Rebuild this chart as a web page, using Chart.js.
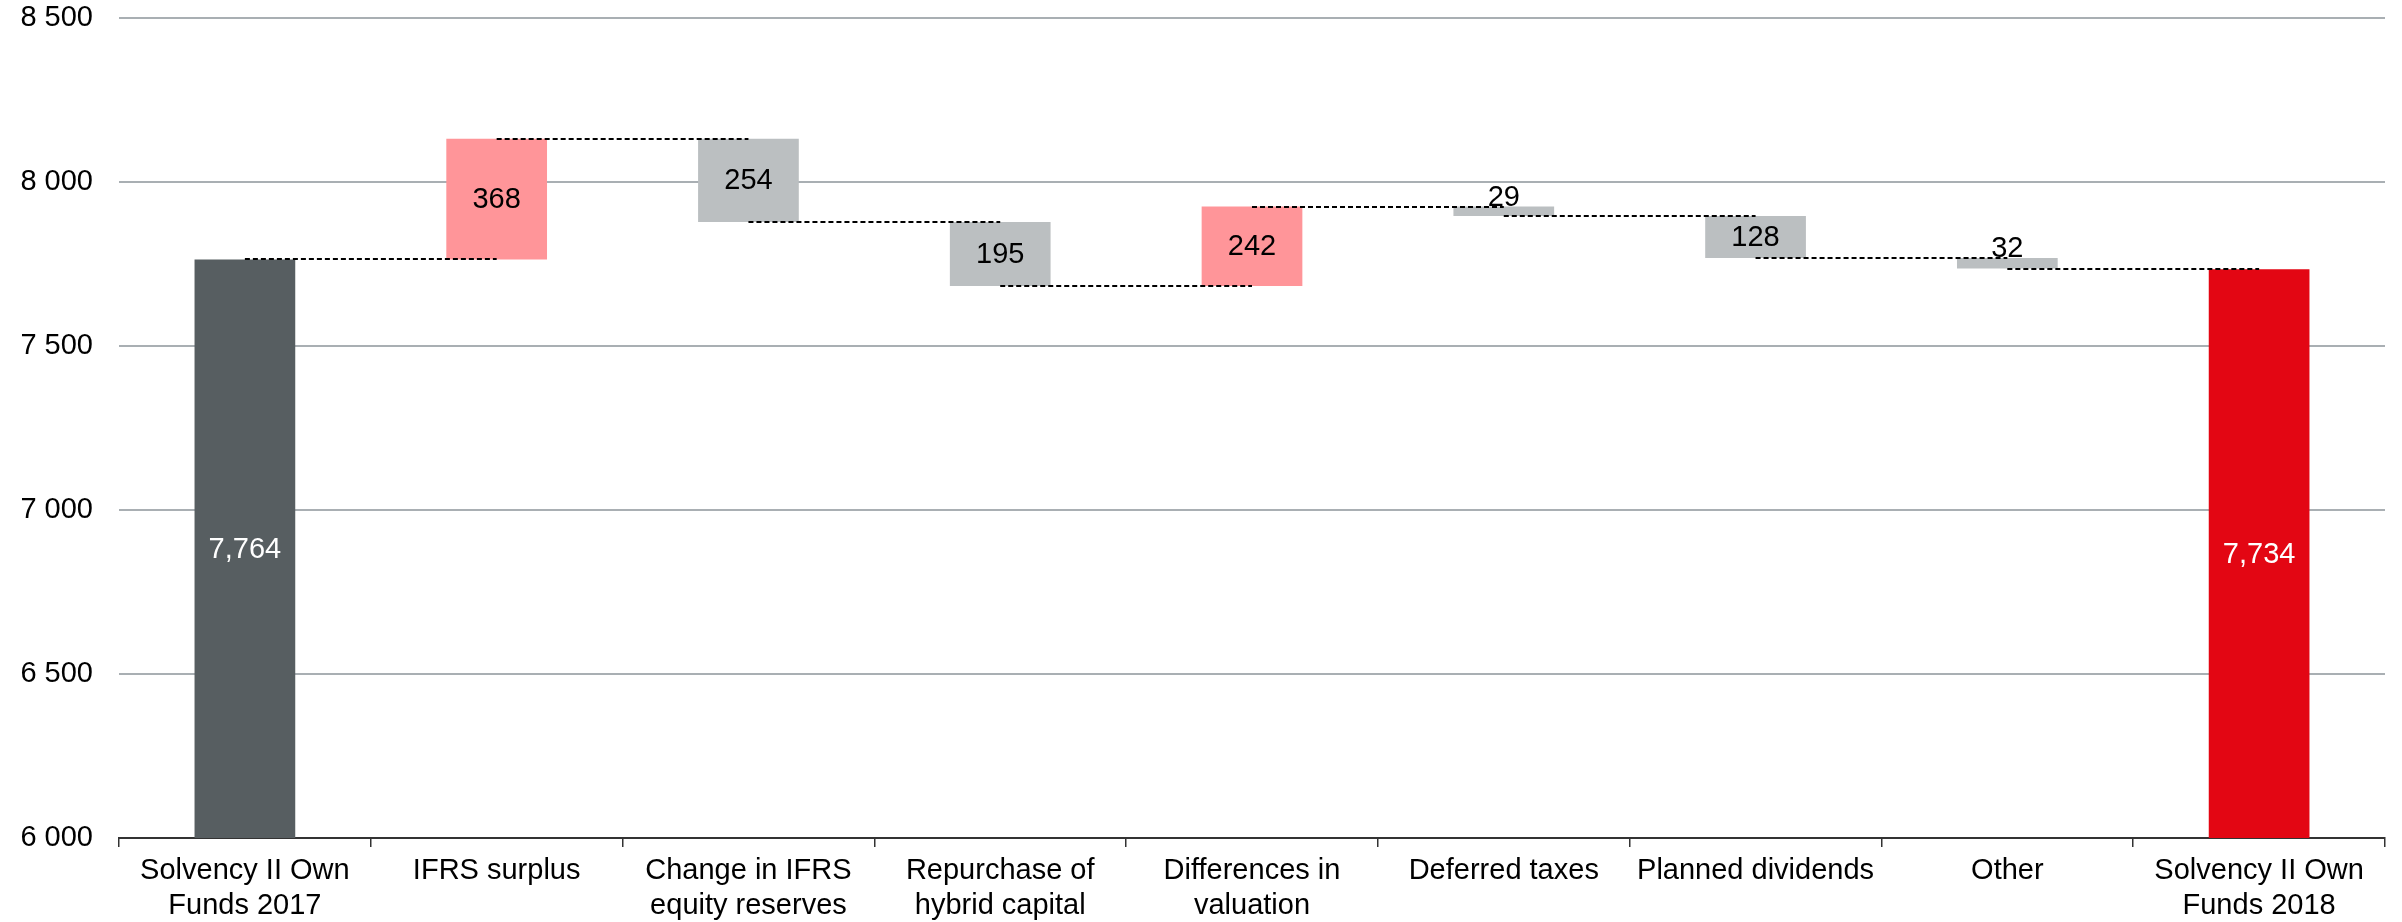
<!DOCTYPE html>
<html>
<head>
<meta charset="utf-8">
<script src="https://cdn.jsdelivr.net/npm/chart.js@4"></script>
<style>
  html, body { margin: 0; padding: 0; background: #fff; }
  #wrap { width: 2402px; height: 922px; }
</style>
</head>
<body>
<div id="wrap"><canvas id="chart" width="2402" height="922"></canvas></div>
<script>
const categories = [
  ['Solvency II Own', 'Funds 2017'],
  'IFRS surplus',
  ['Change in IFRS', 'equity reserves'],
  ['Repurchase of', 'hybrid capital'],
  ['Differences in', 'valuation'],
  'Deferred taxes',
  'Planned dividends',
  'Other',
  ['Solvency II Own', 'Funds 2018']
];
const openingTotal = 7764;
const closingTotal = 7734;
const changes = [368, -254, -195, 242, -29, -128, -32];
const yTicks = [6000, 6500, 7000, 7500, 8000, 8500];

const colTotalStart = '#575E61';
const colTotalEnd = '#E30613';
const colUp = '#FF9599';
const colDown = '#BBBFC1';
const fontFamily = '"Liberation Sans", Arial, sans-serif';

// build floating bars for the waterfall
const ranges = [[0, openingTotal]];
const colors = [colTotalStart];
const labels = [openingTotal.toLocaleString('en-US')];
const levels = [openingTotal];
let level = openingTotal;
changes.forEach(c => {
  const next = level + c;
  ranges.push([Math.min(level, next), Math.max(level, next)]);
  colors.push(c > 0 ? colUp : colDown);
  labels.push(String(Math.abs(c)));
  level = next;
  levels.push(level);
});
ranges.push([0, closingTotal]);
colors.push(colTotalEnd);
labels.push(closingTotal.toLocaleString('en-US'));

const connectors = {
  id: 'connectors',
  afterDatasetsDraw(chart) {
    const ctx = chart.ctx;
    const x = chart.scales.x, y = chart.scales.y;
    ctx.save();
    ctx.strokeStyle = '#000';
    ctx.lineWidth = 1.8;
    ctx.setLineDash([5, 3]);
    for (let i = 0; i < levels.length; i++) {
      const py = Math.round(y.getPixelForValue(levels[i]));
      ctx.beginPath();
      ctx.moveTo(x.getPixelForValue(i), py);
      ctx.lineTo(x.getPixelForValue(i + 1), py);
      ctx.stroke();
    }
    ctx.restore();
  }
};

const barLabels = {
  id: 'barLabels',
  afterDatasetsDraw(chart) {
    const ctx = chart.ctx;
    const y = chart.scales.y;
    const meta = chart.getDatasetMeta(0);
    ctx.save();
    ctx.font = '29px ' + fontFamily;
    ctx.textAlign = 'center';
    meta.data.forEach((bar, i) => {
      const [lo, hi] = ranges[i];
      const isTotal = i === 0 || i === ranges.length - 1;
      const top = y.getPixelForValue(hi);
      const bottom = y.getPixelForValue(Math.max(lo, y.min));
      ctx.fillStyle = isTotal ? '#fff' : '#000';
      if (bottom - top < 30) {
        ctx.textBaseline = 'alphabetic';
        ctx.fillText(labels[i], bar.x, top - 1);
      } else {
        ctx.textBaseline = 'middle';
        ctx.fillText(labels[i], bar.x, (top + bottom) / 2 + 1);
      }
    });
    ctx.restore();
  }
};

new Chart(document.getElementById('chart'), {
  type: 'bar',
  data: {
    labels: categories,
    datasets: [{
      data: ranges,
      backgroundColor: colors,
      borderWidth: 0,
      borderSkipped: false,
      categoryPercentage: 1,
      barPercentage: 0.4
    }]
  },
  options: {
    responsive: false,
    animation: false,
    layout: { padding: { top: 18, right: 17, left: 0, bottom: 0 } },
    plugins: {
      legend: { display: false },
      tooltip: { enabled: false }
    },
    scales: {
      x: {
        grid: {
          display: true,
          drawOnChartArea: false,
          drawTicks: true,
          tickLength: 9,
          color: '#333',
          lineWidth: 1.5
        },
        border: { display: true, color: '#333', width: 2 },
        ticks: {
          color: '#000',
          font: { family: fontFamily, size: 29, lineHeight: 1.2 },
          padding: 7,
          maxRotation: 0,
          autoSkip: false
        },
        afterFit(scale) { scale.height = 84; }
      },
      y: {
        min: 6000,
        max: 8500,
        afterBuildTicks(scale) { scale.ticks = yTicks.map(v => ({ value: v })); },
        grid: { color: '#A9AFB3', lineWidth: 2, drawTicks: false },
        border: { display: false },
        ticks: {
          color: '#000',
          font: { family: fontFamily, size: 29 },
          padding: 26,
          callback: v => String(v).replace(/\B(?=(\d{3})+(?!\d))/g, ' ')
        },
        afterFit(scale) {
          scale.width = 119;
          scale.paddingTop = 0;
          scale.paddingBottom = 0;
        }
      }
    }
  },
  plugins: [connectors, barLabels]
});
</script>
</body>
</html>
